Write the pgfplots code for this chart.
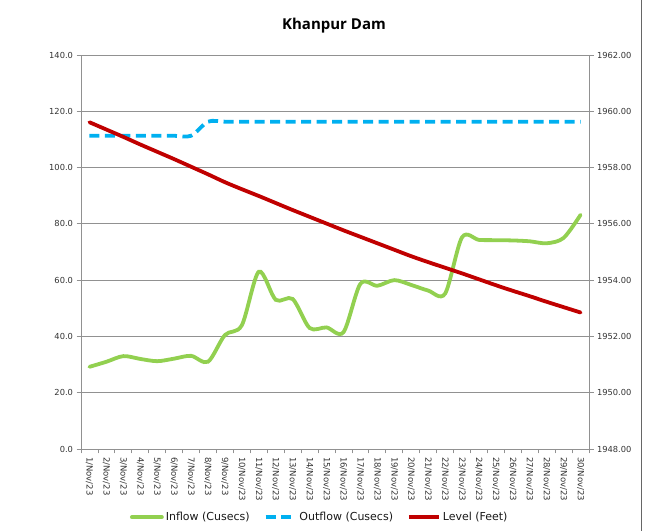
\documentclass[border=0pt]{standalone}
\usepackage{fontspec}
\setmainfont{DejaVu Sans}
\newfontfamily\titlefont{Open Sans}
\usepackage{pgfplots}
\pgfplotsset{compat=1.18}
\definecolor{inflowc}{RGB}{146,208,80}
\definecolor{outflowc}{RGB}{0,176,240}
\definecolor{levelc}{RGB}{192,0,0}
\definecolor{gridc}{RGB}{145,145,145}

\pgfplotstableread{
day inflow outflow
1 29.2 111.3
2 31.0 111.3
3 33.0 111.3
4 32.0 111.3
5 31.2 111.3
6 32.1 111.3
7 33.1 111.3
8 31.0 116.3
9 40.5 116.3
10 44.0 116.3
11 63.0 116.3
12 53.0 116.3
13 53.3 116.3
14 43.0 116.3
15 43.2 116.3
16 41.5 116.3
17 58.7 116.3
18 58.0 116.3
19 60.0 116.3
20 58.3 116.3
21 56.3 116.3
22 55.2 116.3
23 75.2 116.3
24 74.3 116.3
25 74.2 116.3
26 74.1 116.3
27 73.8 116.3
28 73.1 116.3
29 75.0 116.3
30 83.2 116.3
}\flowdata

\pgfplotstableread{
day level
1 1959.61
2 1959.35
3 1959.09
4 1958.82
5 1958.56
6 1958.30
7 1958.03
8 1957.76
9 1957.48
10 1957.23
11 1956.99
12 1956.74
13 1956.49
14 1956.25
15 1956.01
16 1955.77
17 1955.54
18 1955.31
19 1955.08
20 1954.85
21 1954.64
22 1954.44
23 1954.24
24 1954.03
25 1953.82
26 1953.62
27 1953.43
28 1953.23
29 1953.04
30 1952.85
}\leveldata

\pgfplotsset{
  common/.style={
    at={(81bp,82bp)}, anchor=south west,
    scale only axis, width=508bp, height=394bp,
    xmin=0.5, xmax=30.5,
    tick align=outside,
    major tick length=4.5bp,
    minor tick length=4.5bp,
    every tick/.style={gridc, line width=0.8bp},
    axis line style={gridc, line width=0.8bp},
    /pgf/number format/assume math mode=true,
    yticklabel style={font=\fontsize{8.3bp}{10bp}\selectfont, text=black!80},
  }
}

\begin{document}
\begin{tikzpicture}[x=1bp,y=1bp]
\useasboundingbox (0,0) rectangle (648,531);
\draw[gray!80!black, line width=0.8bp] (641.5,0) -- (641.5,531);
\node[font=\titlefont\bfseries\fontsize{15bp}{18bp}\selectfont] at (334,505) {Khanpur Dam};
\begin{axis}[common,
  axis y line*=left, axis x line*=bottom,
  ymin=0, ymax=140,
  ytick={0,20,...,140},
  ymajorgrids,
  major grid style={gridc, line width=0.8bp},
  yticklabel style={/pgf/number format/.cd, fixed, fixed zerofill, precision=1},
  xtick={1,...,30},
  major x tick style={draw=none},
  minor xtick={0.5,1.5,...,30.5},
  xticklabels={1/Nov/23,2/Nov/23,3/Nov/23,4/Nov/23,5/Nov/23,6/Nov/23,7/Nov/23,8/Nov/23,9/Nov/23,10/Nov/23,11/Nov/23,12/Nov/23,13/Nov/23,14/Nov/23,15/Nov/23,16/Nov/23,17/Nov/23,18/Nov/23,19/Nov/23,20/Nov/23,21/Nov/23,22/Nov/23,23/Nov/23,24/Nov/23,25/Nov/23,26/Nov/23,27/Nov/23,28/Nov/23,29/Nov/23,30/Nov/23},
  xticklabel style={rotate=-90, anchor=west, font=\fontsize{8.5bp}{10bp}\selectfont, text=black!80},
  legend style={at={(0.47,-0.173)}, anchor=center, legend columns=3, draw=none,
    font=\fontsize{11bp}{13bp}\selectfont, text=black!90,
    /tikz/every even column/.append style={column sep=12bp}},
  legend image code/.code={\draw[#1] (0bp,0bp) -- (30bp,0bp);},
]
\addplot[inflowc, line width=3.8bp, line cap=round, smooth, tension=0.5] table[x=day, y=inflow] {\flowdata};
\addplot[outflowc, line width=3.8bp, dash pattern=on 10bp off 5.5bp, smooth, tension=0.5] table[x=day, y=outflow] {\flowdata};
\addlegendimage{levelc, line width=3.8bp}
\legend{Inflow (Cusecs), Outflow (Cusecs), Level (Feet)}
\end{axis}
\begin{axis}[common,
  axis y line*=right, axis x line=none,
  ymin=1948, ymax=1962,
  ytick={1948,1950,...,1962},
  yticklabel style={/pgf/number format/.cd, fixed, fixed zerofill, precision=2, 1000 sep={}},
]
\addplot[levelc, line width=3.8bp, line cap=round, smooth, tension=0.5] table[x=day, y=level] {\leveldata};
\end{axis}
\end{tikzpicture}
\end{document}
